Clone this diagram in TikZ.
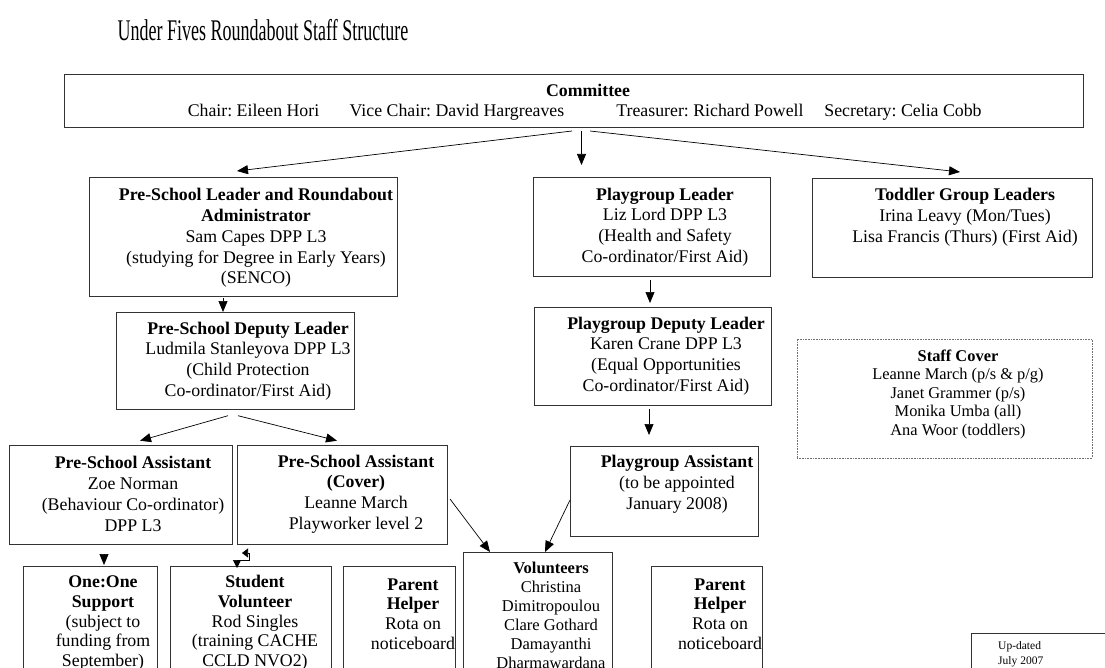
\documentclass[tikz,border=0pt]{standalone}
\usepackage{fontspec}
\setmainfont{Liberation Serif}
\usetikzlibrary{arrows.meta}
\frenchspacing
\tikzset{
  box/.style={draw=black!80, line width=.8pt, inner sep=0pt, outer sep=0pt, anchor=north west},
  txt/.style={align=center, inner sep=0pt, font=\fontsize{17.8}{20.8}\selectfont},
  low/.style={txt, font=\fontsize{17.8}{19.7}\selectfont},
  arr/.style={line width=.7pt, -{Triangle[length=11pt,width=9pt]}},
}

\begin{document}
\begin{tikzpicture}[x=1pt,y=-1pt]
  \useasboundingbox (0,0) rectangle (1105,668);
  \clip (0,0) rectangle (1105,668);
  \node (title) at (263,30) {\scalebox{0.6}[1]{\fontsize{30}{36}\selectfont Under Fives Roundabout Staff Structure}};
  % boxes
  \node [box, minimum width=1019pt, minimum height=53pt] (comm) at (64,74) {};
  \node [box, minimum width=308pt, minimum height=119pt] (lead) at (89,177) {};
  \node [box, minimum width=238pt, minimum height=97pt] (dep) at (116,312) {};
  \node [box, minimum width=237pt, minimum height=99pt] (pgl) at (533,177) {};
  \node [box, minimum width=237pt, minimum height=98pt] (pgd) at (534,307) {};
  \node [box, minimum width=280pt, minimum height=99pt] (tod) at (812,178) {};
  \node [box, draw=black!55, line width=.6pt, densely dotted, minimum width=295pt, minimum height=119pt] (cover) at (797,339) {};
  \node [box, minimum width=223pt, minimum height=99pt] (psa) at (9,445) {};
  \node [box, minimum width=210pt, minimum height=99pt] (psc) at (237,445) {};
  \node [box, minimum width=188pt, minimum height=90pt] (pga) at (570,446) {};
  \node [box, minimum width=134pt, minimum height=140pt] (one) at (23,566) {};
  \node [box, minimum width=161pt, minimum height=140pt] (stu) at (170,566) {};
  \node [box, minimum width=112pt, minimum height=140pt] (ph1) at (343,566) {};
  \node [box, minimum width=149pt, minimum height=150pt] (vol) at (463,552) {};
  \node [box, minimum width=111pt, minimum height=140pt] (ph2) at (651,566) {};
  \node [box, minimum width=160pt, minimum height=60pt] (upd) at (971,633) {};
  % texts
  \node [txt, anchor=base] (comm-t) at (588,97) {\textbf{Committee}};
  \node [txt, anchor=base] (chair) at (253.5,117) {Chair: Eileen Hori};
  \node [txt, anchor=base] (vice) at (457,117) {Vice Chair: David Hargreaves};
  \node [txt, anchor=base] (treas) at (710,117) {Treasurer: Richard Powell};
  \node [txt, anchor=base] (secr) at (903,117) {Secretary: Celia Cobb};
  \node [txt] (lead-t) at (256,238) {\textbf{Pre-School Leader and Roundabout}\\\textbf{Administrator}\\Sam Capes DPP L3\\(studying for Degree in Early Years)\\(SENCO)};
  \node [txt] (dep-t) at (248,361) {\textbf{Pre-School Deputy Leader}\\Ludmila Stanleyova DPP L3\\(Child Protection\\Co-ordinator/First Aid)};
  \node [txt] (pgl-t) at (665,227) {\textbf{Playgroup Leader}\\Liz Lord DPP L3\\(Health and Safety\\Co-ordinator/First Aid)};
  \node [txt] (pgd-t) at (666,356) {\textbf{Playgroup Deputy Leader}\\Karen Crane DPP L3\\(Equal Opportunities\\Co-ordinator/First Aid)};
  \node [txt] (tod-t) at (965,217) {\textbf{Toddler Group Leaders}\\Irina Leavy (Mon/Tues)\\Lisa Francis (Thurs) (First Aid)};
  \node [txt, font=\fontsize{16.4}{18.5}\selectfont] (cover-t) at (958,394) {\textbf{Staff Cover}\\Leanne March (p/s \& p/g)\\Janet Grammer (p/s)\\Monika Umba (all)\\Ana Woor (toddlers)};
  \node [txt] (psa-t) at (133,494) {\textbf{Pre-School Assistant}\\Zoe Norman\\(Behaviour Co-ordinator)\\DPP L3};
  \node [txt] (psc-t) at (356,494) {\textbf{Pre-School Assistant}\\\textbf{(Cover)}\\Leanne March\\Playworker level 2};
  \node [txt] (pga-t) at (677,484) {\textbf{Playgroup Assistant}\\(to be appointed\\January 2008)};
  \node [low] (one-t) at (103,623) {\textbf{One:One}\\\textbf{Support}\\(subject to\\funding from\\September)};
  \node [low] (stu-t) at (255,623) {\textbf{Student}\\\textbf{Volunteer}\\Rod Singles\\(training CACHE\\CCLD NVO2)};
  \node [low] (ph1-t) at (413,614) {\textbf{Parent}\\\textbf{Helper}\\Rota on\\noticeboard};
  \node [txt, font=\fontsize{16.5}{19}\selectfont, anchor=north] (vol-t) at (551,562) {\textbf{Volunteers}\\Christina\\Dimitropoulou\\Clare Gothard\\Damayanthi\\Dharmawardana};
  \node [low] (ph2-t) at (720,614) {\textbf{Parent}\\\textbf{Helper}\\Rota on\\noticeboard};
  \node [txt, align=left, anchor=west, font=\fontsize{11.5}{15}\selectfont] (upd-t) at (998,654.5) {Up-dated\\July 2007};
  % connectors
  \draw [arr] ([xshift=-1.5pt,yshift=-4pt]comm.south) -- ([xshift=-6pt,yshift=6pt]lead.north);
  \draw [arr] ([xshift=8pt,yshift=-4pt]comm.south) -- ([xshift=8pt,yshift=-38pt]comm.south);
  \draw [arr] ([xshift=16.5pt,yshift=-4pt]comm.south) -- ([xshift=8pt,yshift=6pt]tod.north);
  \draw [arr] ([xshift=-20pt,yshift=-2pt]lead.south) -- ([xshift=-12pt]dep.north);
  \draw [arr] ([xshift=-1.5pt,yshift=-4pt]pgl.south) -- ([xshift=-2.5pt,yshift=4pt]pgd.north);
  \draw [arr] ([xshift=-7pt,yshift=-6.7pt]dep.south) -- ([xshift=19.5pt,yshift=4.3pt]psa.north);
  \draw [arr] ([xshift=3pt,yshift=-6.7pt]dep.south) -- ([xshift=-5pt,yshift=4.3pt]psc.north);
  \draw [arr] ([xshift=-3.5pt,yshift=-4pt]pgd.south) -- ([xshift=-15pt,yshift=11pt]pga.north);
  \draw [arr] ([xshift=-16.5pt,yshift=-11pt]psa.south) -- ([xshift=14pt,yshift=1pt]one.north);
  \draw [arr] ([xshift=3pt,yshift=-4.5pt]psc.east) -- ([xshift=-47.5pt]vol.north);
  \draw [arr] ([yshift=-9pt]pga.west) -- ([xshift=7.5pt]vol.north);
  % the little elbow between the cover box and the student box
  \draw [line width=.7pt, {Triangle[length=6pt,width=9pt]}-{Triangle[length=8pt,width=8pt]}]
    ([xshift=5pt,yshift=-9pt]psc.south west) -- ++(7,0) -- ++(0,7) -- ++(-12,0)
    -- ([xshift=67pt,yshift=-2pt]stu.north west);
\end{tikzpicture}
\end{document}
